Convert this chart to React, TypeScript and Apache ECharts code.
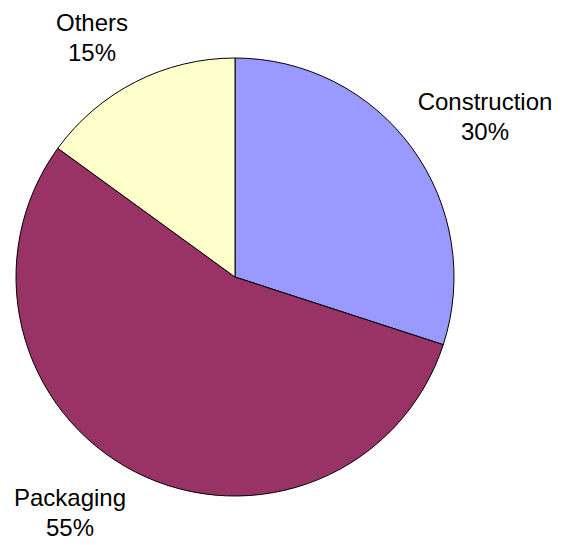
import React, { useEffect, useRef } from "react";
import * as echarts from "echarts";

const categories = ["Construction", "Packaging", "Others"];
const values = [30, 55, 15];
const colors = ["#9999FF", "#993366", "#FFFFCC"];
const labelPos: [number, number][] = [
  [485, 116],
  [70, 512],
  [92, 37],
];

export default function App() {
  const ref = useRef<HTMLDivElement>(null);
  useEffect(() => {
    document.body.style.margin = "0";
    const chart = echarts.init(ref.current!, undefined, { renderer: "svg" });
    chart.setOption({
      animation: false,
      backgroundColor: "#ffffff",
      series: [
        {
          type: "pie",
          center: [235, 277],
          radius: 219,
          startAngle: 90,
          clockwise: true,
          avoidLabelOverlap: false,
          itemStyle: { borderColor: "#000000", borderWidth: 1 },
          label: {
            show: true,
            formatter: "{b}\n{d}%",
            fontFamily: "Liberation Sans, Arial, sans-serif",
            fontSize: 24,
            lineHeight: 30,
            color: "#000000",
            align: "center",
          },
          labelLine: { show: false },
          labelLayout: (p: any) => ({
            x: labelPos[p.dataIndex][0],
            y: labelPos[p.dataIndex][1],
            align: "center",
            verticalAlign: "middle",
          }),
          emphasis: { disabled: true },
          data: categories.map((c, i) => ({
            name: c,
            value: values[i],
            itemStyle: { color: colors[i] },
          })),
        },
      ],
    });
    return () => chart.dispose();
  }, []);
  return (
    <div
      ref={ref}
      style={{ width: 571, height: 545, position: "absolute", left: 0, top: 0 }}
    />
  );
}
